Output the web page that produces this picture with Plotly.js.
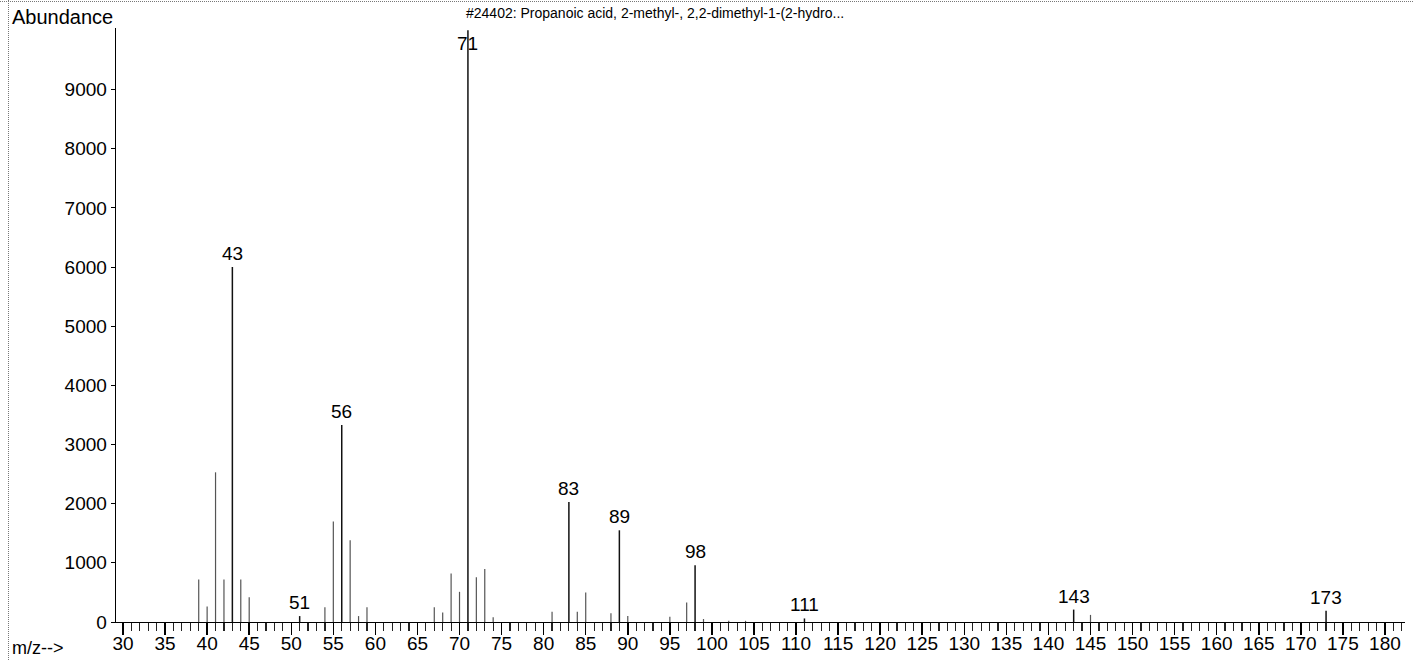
<!DOCTYPE html>
<html>
<head>
<meta charset="utf-8">
<script src="https://cdn.plot.ly/plotly-3.0.1.min.js"></script>
<style>
  html, body { margin: 0; padding: 0; background: #fff; }
  #wrap { position: relative; width: 1413px; height: 660px; overflow: hidden; }
  #chart { width: 1413px; height: 660px; }
  #bTop { position: absolute; left: 0; top: 1px; width: 1413px; border-top: 1px dotted #777; }
  #bLeft { position: absolute; left: 8px; top: 0; height: 660px; border-left: 1px dotted #777; }
</style>
</head>
<body>
<div id="wrap">
  <div id="chart"></div>
  <div id="bTop"></div>
  <div id="bLeft"></div>
</div>
<script>
// m/z values of peaks and their abundances
const mz = [39, 40, 41, 42, 43, 44, 45, 51, 54, 55, 56, 57, 58, 59,
            67, 68, 69, 70, 71, 72, 73, 74, 81, 83, 84, 85, 88, 89, 90,
            95, 97, 98, 99, 102, 104, 111, 143, 145, 173];
const abundance = [720, 260, 2530, 720, 6000, 720, 420, 100, 250, 1700, 3330, 1380, 100, 250,
                   250, 160, 820, 510, 10000, 755, 895, 80, 175, 2030, 175, 500, 150, 1550, 100,
                   90, 330, 960, 50, 20, 20, 60, 210, 120, 190];
const labeledMz = [43, 51, 56, 71, 83, 89, 98, 111, 143, 173];
const xTickVals = [30, 35, 40, 45, 50, 55, 60, 65, 70, 75, 80, 85, 90, 95, 100, 105, 110, 115,
                   120, 125, 130, 135, 140, 145, 150, 155, 160, 165, 170, 175, 180];
const yTickVals = [0, 1000, 2000, 3000, 4000, 5000, 6000, 7000, 8000, 9000];
const titleText = "#24402: Propanoic acid, 2-methyl-, 2,2-dimethyl-1-(2-hydro...";

function stems(filterFn) {
  const xs = [], ys = [];
  mz.forEach((m, i) => {
    if (filterFn(m)) { xs.push(m, m, null); ys.push(0, abundance[i], null); }
  });
  return {xs, ys};
}
const minor = stems(m => labeledMz.indexOf(m) < 0);
const major = stems(m => labeledMz.indexOf(m) >= 0);

const FONT = "Liberation Sans, Arial, Helvetica, sans-serif";

const traces = [
  {x: minor.xs, y: minor.ys, type: 'scatter', mode: 'lines',
   line: {color: '#555', width: 1.2}, hoverinfo: 'skip', showlegend: false},
  {x: major.xs, y: major.ys, type: 'scatter', mode: 'lines',
   line: {color: '#111', width: 1.5}, hoverinfo: 'skip', showlegend: false}
];

const L = 116, R = 8, T = 28, B = 38;
const plotW = 1413 - L - R, plotH = 660 - T - B;

const maxVal = Math.max.apply(null, abundance);
const annotations = labeledMz.map(m => {
  const v = abundance[mz.indexOf(m)];
  const isTop = v === maxVal;   // base peak label sits beside its stem, under the title
  return {
    x: m, y: v, xref: 'x', yref: 'y',
    text: String(m), showarrow: false, xanchor: 'center',
    yanchor: isTop ? 'top' : 'bottom', yshift: isTop ? -1 : 1,
    font: {family: FONT, size: 19, color: '#000'}
  };
});
annotations.push({
  xref: 'paper', yref: 'paper', x: (10 - L) / plotW, y: 1 + (T - 17) / plotH,
  text: 'Abundance', showarrow: false, xanchor: 'left', yanchor: 'middle',
  font: {family: FONT, size: 20, color: '#000'}
});
annotations.push({
  xref: 'paper', yref: 'paper', x: (10 - L) / plotW, y: -(648 - (660 - B)) / plotH,
  text: 'm/z-->', showarrow: false, xanchor: 'left', yanchor: 'middle',
  font: {family: FONT, size: 18, color: '#000'}
});

const layout = {
  width: 1413, height: 660,
  margin: {l: L, r: R, t: T, b: B, pad: 0},
  paper_bgcolor: '#fff', plot_bgcolor: '#fff',
  showlegend: false,
  title: {
    text: titleText, x: (466 - L) / plotW, xref: 'paper', xanchor: 'left',
    y: 1 - 13 / 660, yanchor: 'middle',
    font: {family: FONT, size: 14, color: '#000'}
  },
  xaxis: {
    range: [30 - (123 - L) / 8.413, 30 + (1405 - 123) / 8.413],
    tickmode: 'array', tickvals: xTickVals, ticktext: xTickVals.map(String),
    ticks: 'outside', ticklen: 12, tickwidth: 1.5, tickcolor: '#000',
    ticklabelstandoff: -8,
    minor: {dtick: 1, tick0: 0, ticks: 'outside', ticklen: 8, tickwidth: 1.2, tickcolor: '#222', showgrid: false},
    showline: true, linecolor: '#000', linewidth: 1.3,
    showgrid: false, zeroline: false,
    tickfont: {family: FONT, size: 19, color: '#000'}
  },
  yaxis: {
    range: [0, 10040],
    tickmode: 'array', tickvals: yTickVals, ticktext: yTickVals.map(String),
    ticks: 'outside', ticklen: 4, tickwidth: 1, tickcolor: '#000',
    showline: true, linecolor: '#000', linewidth: 1.3,
    showgrid: false, zeroline: false,
    tickfont: {family: FONT, size: 19, color: '#000'}
  },
  annotations: annotations
};

Plotly.newPlot('chart', traces, layout, {displayModeBar: false, staticPlot: true});
</script>
</body>
</html>
